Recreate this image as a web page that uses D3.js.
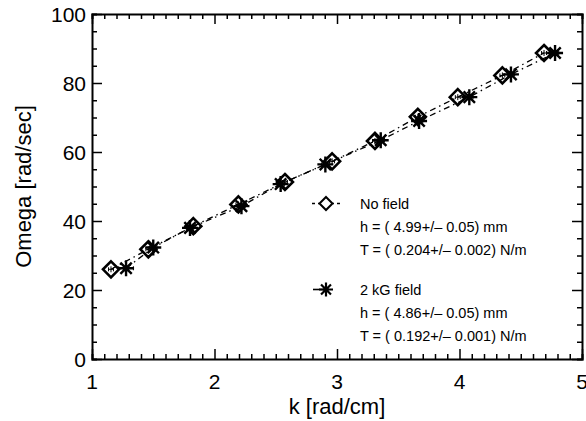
<!DOCTYPE html>
<html>
<head>
<meta charset="utf-8">
<script src="https://cdn.jsdelivr.net/npm/d3@7"></script>
<style>
  body { margin: 0; background: #fff; }
  text { font-family: "Liberation Sans", Arial, sans-serif; fill: #000; }
</style>
</head>
<body>
<script>
// measured dispersion points, no field (diamonds)
const kNoField = [1.155, 1.46, 1.827, 2.195, 2.575, 2.96, 3.31, 3.66, 3.986, 4.35, 4.69];
const wNoField = [26.0, 31.8, 38.5, 44.8, 51.3, 57.3, 63.2, 70.2, 75.9, 82.2, 88.7];
const kErrNoField = [0.02, 0.02, 0.02, 0.02, 0.02, 0.02, 0.02, 0.02, 0.02, 0.02, 0.02];

// 2 kG field (asterisks)
const kField = [1.278, 1.50, 1.80, 2.22, 2.54, 2.905, 3.357, 3.67, 4.08, 4.42, 4.78];
const wField = [26.3, 32.3, 38.0, 44.3, 50.7, 56.4, 63.4, 69.0, 75.9, 82.5, 88.7];
const kErrField = [0.06, 0.03, 0.03, 0.03, 0.03, 0.03, 0.03, 0.03, 0.03, 0.03, 0.03];

const xTicks = [1, 2, 3, 4, 5];
const yTicks = [0, 20, 40, 60, 80, 100];
const legendNoField = ["No field", "h = ( 4.99+/\u2013 0.05) mm", "T = ( 0.204+/\u2013 0.002) N/m"];
const legendField = ["2 kG field", "h = ( 4.86+/\u2013 0.05) mm", "T = ( 0.192+/\u2013 0.001) N/m"];

const W = 586, H = 421;
const m = { left: 92, right: 4, top: 14, bottom: 62 };

const svg = d3.select("body").append("svg")
  .attr("width", W).attr("height", H)
  .attr("xmlns", "http://www.w3.org/2000/svg");

const x = d3.scaleLinear().domain([1, 5]).range([m.left, W - m.right]);
const y = d3.scaleLinear().domain([0, 100]).range([H - m.bottom, m.top]);

// frame with inward ticks on all four sides
const gx = svg.append("g").attr("transform", `translate(0,${y(0)})`);
gx.call(d3.axisBottom(x).tickValues(d3.range(1, 5.001, 0.1)).tickSize(-5).tickFormat(""));
gx.call(g => g.selectAll(".tick").filter(d => xTicks.some(t => Math.abs(t - d) < 1e-6))
  .select("line").attr("y2", -10));
gx.append("g").selectAll("text").data(xTicks).join("text")
  .attr("x", d => x(d)).attr("y", 30)
  .attr("text-anchor", "middle").attr("font-size", 21)
  .text(d => d);

const gxTop = svg.append("g").attr("transform", `translate(0,${y(100)})`);
gxTop.call(d3.axisTop(x).tickValues(d3.range(1, 5.001, 0.1)).tickSize(-5).tickFormat(""));
gxTop.call(g => g.selectAll(".tick").filter(d => xTicks.some(t => Math.abs(t - d) < 1e-6))
  .select("line").attr("y2", 10));

const gy = svg.append("g").attr("transform", `translate(${x(1)},0)`);
gy.call(d3.axisLeft(y).tickValues(d3.range(0, 100.001, 5)).tickSize(-5).tickFormat(""));
gy.call(g => g.selectAll(".tick").filter(d => d % 20 === 0).select("line").attr("x2", 10));
gy.append("g").selectAll("text").data(yTicks).join("text")
  .attr("x", -6).attr("y", d => y(d) + 7.5)
  .attr("text-anchor", "end").attr("font-size", 21)
  .text(d => d);

const gyR = svg.append("g").attr("transform", `translate(${x(5)},0)`);
gyR.call(d3.axisRight(y).tickValues(d3.range(0, 100.001, 5)).tickSize(-5).tickFormat(""));
gyR.call(g => g.selectAll(".tick").filter(d => d % 20 === 0).select("line").attr("x2", -10));

svg.selectAll(".domain").attr("stroke", "#000").attr("stroke-width", 2);
svg.selectAll(".tick line").attr("stroke", "#000").attr("stroke-width", 1.5);

// axis titles
svg.append("text")
  .attr("x", (x(1) + x(5)) / 2).attr("y", 414)
  .attr("text-anchor", "middle").attr("font-size", 22)
  .text("k [rad/cm]");
svg.append("text")
  .attr("transform", `translate(31,${(y(0) + y(100)) / 2}) rotate(-90)`)
  .attr("text-anchor", "middle").attr("font-size", 22)
  .text("Omega [rad/sec]");

const noField = kNoField.map((k, i) => ({ k, w: wNoField[i], e: kErrNoField[i] }));
const field = kField.map((k, i) => ({ k, w: wField[i], e: kErrField[i] }));

const line = d3.line().x(d => x(d.k)).y(d => y(d.w));
const plot = svg.append("g");

// dash-dot curves through each series
[noField, field].forEach(s => {
  plot.append("path").datum(s).attr("d", line)
    .attr("fill", "none").attr("stroke", "#000").attr("stroke-width", 1.3)
    .attr("stroke-dasharray", "6,4,1.5,4");
});

// error bars
[noField, field].forEach(s => {
  plot.append("g").selectAll("path").data(s).join("path")
    .attr("d", d => `M${x(d.k - d.e)},${y(d.w)}H${x(d.k + d.e)}` +
      `M${x(d.k - d.e)},${y(d.w) - 2}v4M${x(d.k + d.e)},${y(d.w) - 2}v4` +
      `M${x(d.k)},${y(d.w) - 3}v6`)
    .attr("stroke", "#000").attr("stroke-width", 1).attr("fill", "none");
});

const diamond = r => `M0,${-r}L${r},0L0,${r}L${-r},0Z`;
const star = r => {
  const a = r * 0.71;
  return `M${-r},0H${r}M0,${-r}V${r}M${-a},${-a}L${a},${a}M${-a},${a}L${a},${-a}`;
};

plot.append("g").selectAll("path").data(noField).join("path")
  .attr("transform", d => `translate(${x(d.k)},${y(d.w)})`)
  .attr("d", diamond(8))
  .attr("fill", "none").attr("stroke", "#000").attr("stroke-width", 2.6);

plot.append("g").selectAll("path").data(field).join("path")
  .attr("transform", d => `translate(${x(d.k)},${y(d.w)})`)
  .attr("d", star(8))
  .attr("fill", "none").attr("stroke", "#000").attr("stroke-width", 2.4);

// legend
const lg = svg.append("g");
lg.append("path").attr("d", "M312,203.5h3M318,203.5h1M333,203.5h1M337,203.5h3")
  .attr("stroke", "#000").attr("stroke-width", 1.3);
lg.append("path").attr("transform", "translate(326,203.5)").attr("d", diamond(6.5))
  .attr("fill", "none").attr("stroke", "#000").attr("stroke-width", 2);
lg.append("path").attr("d", "M313,289.5H326").attr("stroke", "#000").attr("stroke-width", 1.6);
lg.append("path").attr("transform", "translate(326,289.5)").attr("d", star(7))
  .attr("fill", "none").attr("stroke", "#000").attr("stroke-width", 2.2);

lg.selectAll("text.a").data(legendNoField).join("text")
  .attr("x", 360).attr("y", (d, i) => 208.5 + i * 23).attr("font-size", 14.5)
  .text(d => d);
lg.selectAll("text.b").data(legendField).enter().append("text")
  .attr("x", 360).attr("y", (d, i) => 294.5 + i * 23).attr("font-size", 14.5)
  .text(d => d);
</script>
</body>
</html>
